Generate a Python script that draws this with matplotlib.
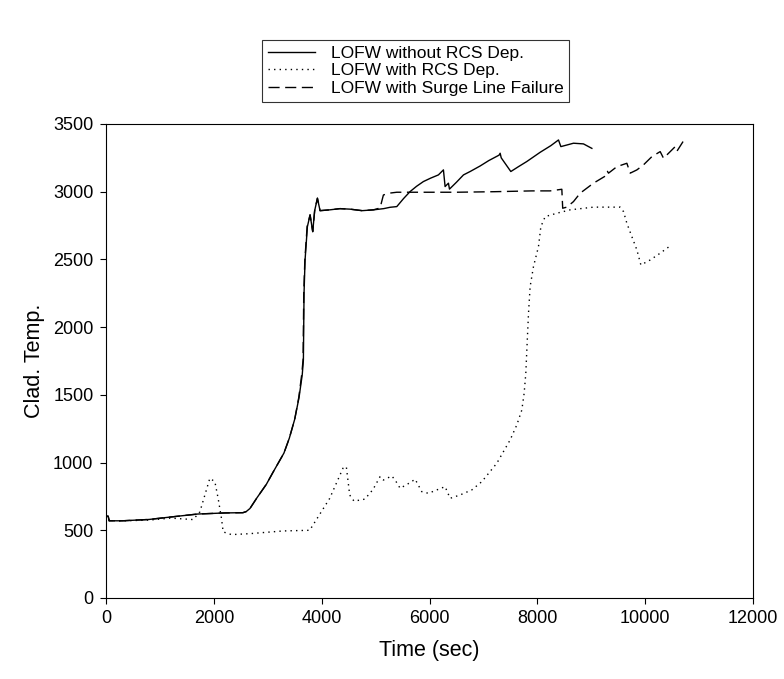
import matplotlib
matplotlib.use('Agg')
import matplotlib.pyplot as plt

plt.rcParams['font.family'] = ['Liberation Sans', 'DejaVu Sans']

# LOFW without RCS depressurization
t_norcs = [0, 40, 60, 300, 800, 1200, 1700, 2200, 2540, 2600, 2670, 2800, 2975, 3100,
           3200, 3300, 3400, 3500, 3580, 3640, 3661, 3673, 3692, 3735, 3785, 3834,
           3870, 3921, 3970, 4150, 4340, 4530, 4750, 4960, 5150, 5270, 5393, 5520,
           5640, 5760, 5887, 6020, 6165, 6258, 6289, 6351, 6370, 6500, 6630, 6753,
           6939, 7100, 7290, 7310, 7330, 7508, 7650, 7805, 8052, 8250, 8392, 8436,
           8550, 8670, 8855, 9011]
T_norcs = [604, 604, 570, 570, 580, 598, 620, 628, 630, 638, 661, 740, 840, 930,
           1000, 1070, 1180, 1320, 1480, 1650, 1758, 2252, 2496, 2742, 2829, 2705,
           2860, 2952, 2860, 2866, 2875, 2871, 2860, 2866, 2875, 2885, 2890, 2950,
           3001, 3040, 3075, 3100, 3124, 3161, 3038, 3063, 3019, 3070, 3124, 3149,
           3190, 3230, 3270, 3284, 3250, 3149, 3185, 3223, 3291, 3340, 3382, 3333,
           3345, 3358, 3353, 3320]

# LOFW with RCS depressurization
t_rcs = [0, 40, 60, 300, 800, 1200, 1617, 1741, 1926, 2019, 2080, 2142, 2173, 2327,
         2667, 3284, 3778, 4148, 4395, 4457, 4520, 4600, 4800, 4950, 5083, 5145,
         5300, 5362, 5455, 5640, 5733, 5857, 5980, 6135, 6289, 6382, 6568, 6784,
         6970, 7248, 7495, 7619, 7712, 7755, 7786, 7805, 7836, 7866, 7928, 8021,
         8065, 8145, 8361, 8609, 9041, 9536, 9598, 9660, 9753, 9846, 9920, 10093,
         10278, 10464]
T_rcs = [604, 604, 570, 570, 575, 590, 579, 636, 884, 859, 735, 587, 488, 468,
         475, 495, 500, 735, 958, 970, 760, 715, 730, 800, 896, 871,
         901, 871, 810, 852, 877, 785, 773, 798, 822, 736, 761, 798,
         859, 995, 1167, 1278, 1388, 1512, 1660, 1832, 2103, 2299, 2447, 2595,
         2742, 2816, 2841, 2866, 2886, 2886, 2853, 2767, 2668, 2570, 2459, 2496,
         2546, 2600]

# LOFW with surge line failure
t_surge = [0, 40, 60, 300, 800, 1200, 1700, 2200, 2540, 2600, 2670, 2800, 2975, 3100,
           3200, 3300, 3400, 3500, 3575, 3630, 3655, 3668, 3688, 3730, 3785, 3834,
           3870, 3921, 3970, 4150, 4340, 4530, 4750, 4960, 5083, 5145, 5270, 5393,
           5800, 6500, 7200, 7900, 8237, 8454, 8470, 8547, 8670, 8794, 9041, 9280,
           9300, 9320, 9475, 9660, 9722, 9846, 9968, 10124, 10278, 10340, 10464,
           10557, 10590, 10742]
T_surge = [604, 604, 570, 570, 580, 598, 620, 628, 630, 638, 661, 740, 840, 930,
           1000, 1070, 1180, 1320, 1480, 1650, 1758, 2252, 2496, 2742, 2829, 2705,
           2860, 2952, 2860, 2866, 2875, 2871, 2860, 2866, 2880, 2976, 2990, 2996,
           2996, 2996, 3000, 3006, 3006, 3018, 2878, 2886, 2927, 2989, 3063, 3120,
           3150, 3137, 3185, 3210, 3137, 3161, 3198, 3259, 3296, 3247, 3296,
           3333, 3300, 3395]

fig = plt.figure(figsize=(7.84, 6.79), dpi=100)
ax = fig.add_axes([0.1352, 0.1193, 0.8253, 0.6981])

l1, = ax.plot(t_norcs, T_norcs, color='black', lw=1.0, ls='-')
l2, = ax.plot(t_rcs, T_rcs, color='black', lw=1.0, ls=(0, (1, 3)))
l3, = ax.plot(t_surge, T_surge, color='black', lw=1.0, ls=(0, (8, 4)))

ax.set_xlim(0, 12000)
ax.set_ylim(0, 3500)
ax.set_xticks(range(0, 12001, 2000))
ax.set_yticks(range(0, 3501, 500))
ax.tick_params(direction='out', length=4, width=0.8, labelsize=13, pad=5,
               top=False, right=False)
for s in ax.spines.values():
    s.set_linewidth(0.8)
ax.set_xlabel("Time (sec)", fontsize=15.5, labelpad=9)
ax.set_ylabel("Clad. Temp.", fontsize=15.5, labelpad=6)

leg = fig.legend([l1, l2, l3],
                 ["LOFW without RCS Dep.", "LOFW with RCS Dep.", "LOFW with Surge Line Failure"],
                 loc='upper left', bbox_to_anchor=(262 / 784, 1 - 40 / 679),
                 fontsize=12.5, frameon=True, fancybox=False, edgecolor='black',
                 handlelength=2.7, handletextpad=0.9, borderpad=0.35, labelspacing=0.12,
                 borderaxespad=0)
leg.get_frame().set_linewidth(0.8)

plt.savefig("out.png", dpi=100)
